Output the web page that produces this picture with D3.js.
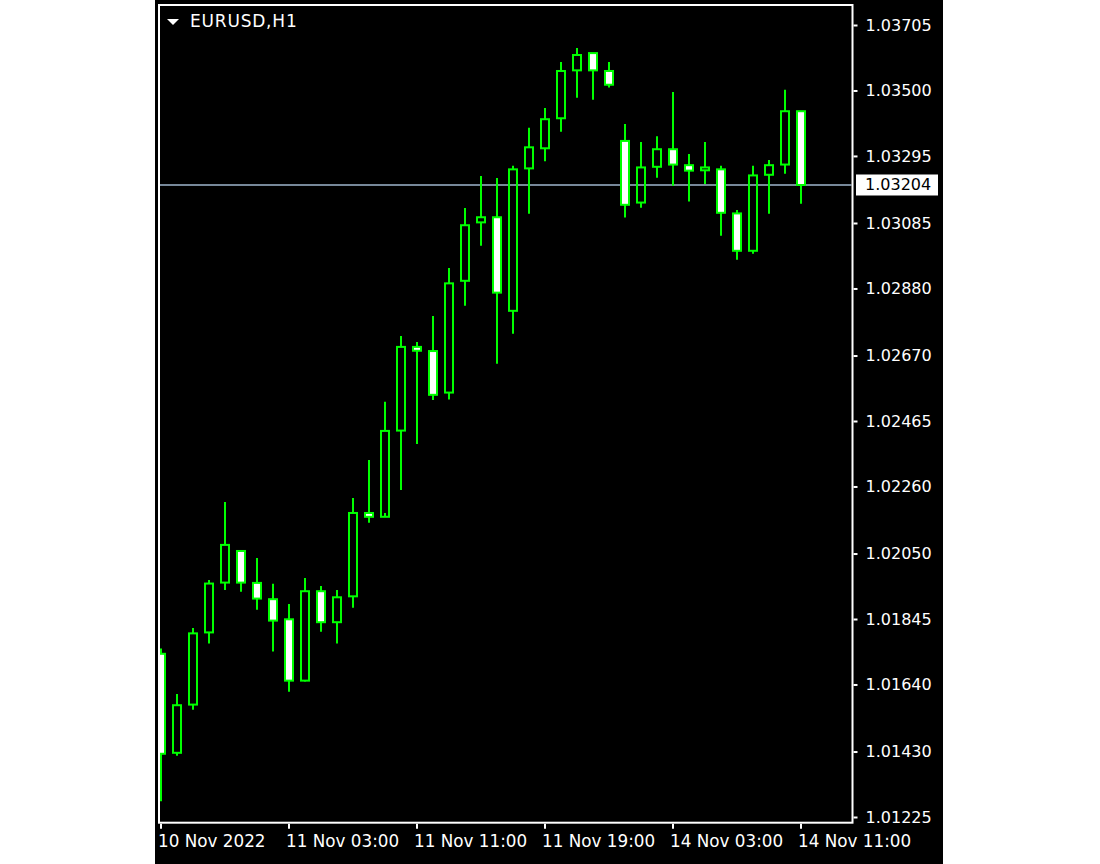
<!DOCTYPE html>
<html>
<head>
<meta charset="utf-8">
<script src="https://cdn.jsdelivr.net/npm/d3@7/dist/d3.min.js"></script>
<style>
  html, body { margin: 0; padding: 0; background: #ffffff; }
  svg { display: block; }
  text { font-family: "DejaVu Sans", sans-serif; }
</style>
</head>
<body>
<svg id="chart" width="1100" height="864"></svg>
<script>
// ---- data ----
const symbol = "EURUSD,H1";
const categories = [
  "2022-11-10 19:00","2022-11-10 20:00","2022-11-10 21:00","2022-11-10 22:00","2022-11-10 23:00",
  "2022-11-11 00:00","2022-11-11 01:00","2022-11-11 02:00","2022-11-11 03:00","2022-11-11 04:00",
  "2022-11-11 05:00","2022-11-11 06:00","2022-11-11 07:00","2022-11-11 08:00","2022-11-11 09:00",
  "2022-11-11 10:00","2022-11-11 11:00","2022-11-11 12:00","2022-11-11 13:00","2022-11-11 14:00",
  "2022-11-11 15:00","2022-11-11 16:00","2022-11-11 17:00","2022-11-11 18:00","2022-11-11 19:00",
  "2022-11-11 20:00","2022-11-11 21:00","2022-11-11 22:00","2022-11-11 23:00",
  "2022-11-14 00:00","2022-11-14 01:00","2022-11-14 02:00","2022-11-14 03:00","2022-11-14 04:00",
  "2022-11-14 05:00","2022-11-14 06:00","2022-11-14 07:00","2022-11-14 08:00","2022-11-14 09:00",
  "2022-11-14 10:00","2022-11-14 11:00"
];
const open  = [1.01736,1.01426,1.01577,1.01803,1.01959,1.02058,1.01958,1.01907,1.01844,1.01652,1.01932,1.01835,1.01916,1.02177,1.02165,1.02435,1.02697,1.02684,1.02554,1.02904,1.03087,1.03103,1.02810,1.03256,1.03319,1.03413,1.03563,1.03617,1.03561,1.03342,1.03149,1.03261,1.03316,1.03266,1.03250,1.03253,1.03115,1.02998,1.03236,1.03268,1.03435];
const high  = [1.01753,1.01610,1.01817,1.01967,1.02211,1.02061,1.02036,1.01955,1.01892,1.01973,1.01948,1.01936,1.02224,1.02343,1.02525,1.02731,1.02712,1.02794,1.02944,1.03132,1.03232,1.03226,1.03264,1.03383,1.03445,1.03589,1.03633,1.03617,1.03589,1.03395,1.03339,1.03357,1.03495,1.03301,1.03339,1.03264,1.03126,1.03264,1.03282,1.03502,1.03435];
const low   = [1.01274,1.01417,1.01561,1.01768,1.01936,1.01930,1.01874,1.01743,1.01617,1.01649,1.01805,1.01768,1.01880,1.02146,1.02177,1.02249,1.02393,1.02531,1.02532,1.02826,1.03014,1.02644,1.02738,1.03114,1.03278,1.03371,1.03477,1.03471,1.03509,1.03102,1.03133,1.03227,1.03202,1.03152,1.03207,1.03045,1.02970,1.02989,1.03114,1.03239,1.03145];
const close = [1.01423,1.01575,1.01800,1.01956,1.02077,1.01959,1.01909,1.01840,1.01652,1.01932,1.01835,1.01913,1.02177,1.02165,1.02434,1.02697,1.02685,1.02547,1.02896,1.03078,1.03103,1.02867,1.03253,1.03322,1.03410,1.03561,1.03611,1.03563,1.03518,1.03142,1.03259,1.03316,1.03268,1.03249,1.03259,1.03117,1.02998,1.03234,1.03266,1.03435,1.03204];
const currentPrice = 1.03204;
const priceTicks = [1.03705,1.03500,1.03295,1.03085,1.02880,1.02670,1.02465,1.02260,1.02050,1.01845,1.01640,1.01430,1.01225];
const timeTickCats = ["2022-11-10 19:00","2022-11-11 03:00","2022-11-11 11:00","2022-11-11 19:00","2022-11-14 03:00","2022-11-14 11:00"];
const timeTickLabels = ["10 Nov 2022","11 Nov 03:00","11 Nov 11:00","11 Nov 19:00","14 Nov 03:00","14 Nov 11:00"];

// ---- layout ----
const svg = d3.select("#chart");
const frame = { left: 159, top: 5, right: 852.5, bottom: 822.7 };
const GREEN = "#00ff00";

svg.append("rect").attr("x", 155).attr("y", 0).attr("width", 788).attr("height", 864).attr("fill", "#000");

const x = d3.scaleBand().domain(categories).range([153, 153 + 16 * categories.length]).padding(0);
const y = d3.scaleLinear().domain([1.01225, 1.03705]).range([817, 25]);
const cx = c => x(c) + x.bandwidth() / 2;

svg.append("defs").append("clipPath").attr("id", "plotclip")
  .append("rect").attr("x", frame.left + 1).attr("y", frame.top + 1)
  .attr("width", frame.right - frame.left - 2).attr("height", frame.bottom - frame.top - 2);

const plot = svg.append("g").attr("clip-path", "url(#plotclip)");

// current price line (behind candles)
plot.append("line")
  .attr("x1", frame.left).attr("x2", frame.right)
  .attr("y1", y(currentPrice)).attr("y2", y(currentPrice))
  .attr("stroke", "#778899").attr("stroke-width", 2);

const bars = categories.map((c, i) => ({ c, o: open[i], h: high[i], l: low[i], cl: close[i] }));

const g = plot.selectAll("g.candle").data(bars).join("g").attr("class", "candle");
// upper wick
g.append("line")
  .attr("x1", d => cx(d.c)).attr("x2", d => cx(d.c))
  .attr("y1", d => y(d.h)).attr("y2", d => y(Math.max(d.o, d.cl)))
  .attr("stroke", GREEN).attr("stroke-width", 2);
// lower wick
g.append("line")
  .attr("x1", d => cx(d.c)).attr("x2", d => cx(d.c))
  .attr("y1", d => y(Math.min(d.o, d.cl))).attr("y2", d => y(d.l))
  .attr("stroke", GREEN).attr("stroke-width", 2);
// body
g.append("rect")
  .attr("x", d => cx(d.c) - 4).attr("width", 8)
  .attr("y", d => y(Math.max(d.o, d.cl)))
  .attr("height", d => Math.max(1, Math.abs(y(d.o) - y(d.cl))))
  .attr("fill", d => d.cl < d.o ? "#ffffff" : "none")
  .attr("stroke", GREEN).attr("stroke-width", 2);

// frame
svg.append("rect")
  .attr("x", frame.left).attr("y", frame.top)
  .attr("width", frame.right - frame.left).attr("height", frame.bottom - frame.top)
  .attr("fill", "none").attr("stroke", "#fff").attr("stroke-width", 2);

// price axis
const yAxis = svg.append("g").attr("transform", `translate(${frame.right + 1},0)`)
  .call(d3.axisRight(y).tickValues(priceTicks).tickFormat(d3.format(".5f")).tickSize(4).tickPadding(8));
yAxis.select(".domain").remove();
yAxis.selectAll(".tick line").attr("stroke", "#fff").attr("stroke-width", 2);
yAxis.selectAll(".tick text").attr("fill", "#fff").attr("font-size", 16)
  .attr("font-family", "DejaVu Sans, sans-serif");

// current price label
const cpY = y(currentPrice);
svg.append("rect").attr("x", 856).attr("y", cpY - 10.5).attr("width", 82).attr("height", 21).attr("fill", "#fff");
svg.append("text").attr("x", 865).attr("y", cpY).attr("dy", "0.32em")
  .attr("fill", "#000").attr("font-size", 16).text(d3.format(".5f")(currentPrice));

// time axis
const xAxis = svg.append("g").attr("transform", `translate(0,${frame.bottom + 1})`)
  .call(d3.axisBottom(x).tickValues(timeTickCats)
    .tickFormat((d) => timeTickLabels[timeTickCats.indexOf(d)]).tickSize(5).tickPadding(6));
xAxis.select(".domain").remove();
xAxis.selectAll(".tick line").attr("stroke", "#fff").attr("stroke-width", 2);
xAxis.selectAll(".tick text").attr("fill", "#fff").attr("font-size", 16.8)
  .attr("font-family", "DejaVu Sans, sans-serif")
  .attr("text-anchor", "start").attr("x", -3).attr("dy", "0.71em");

// title
svg.append("path").attr("d", "M167,19 L179,19 L173,25 Z").attr("fill", "#fff");
svg.append("text").attr("x", 190).attr("y", 26.5).attr("fill", "#fff")
  .attr("font-size", 17).attr("letter-spacing", 0.8).text(symbol);
</script>
</body>
</html>
